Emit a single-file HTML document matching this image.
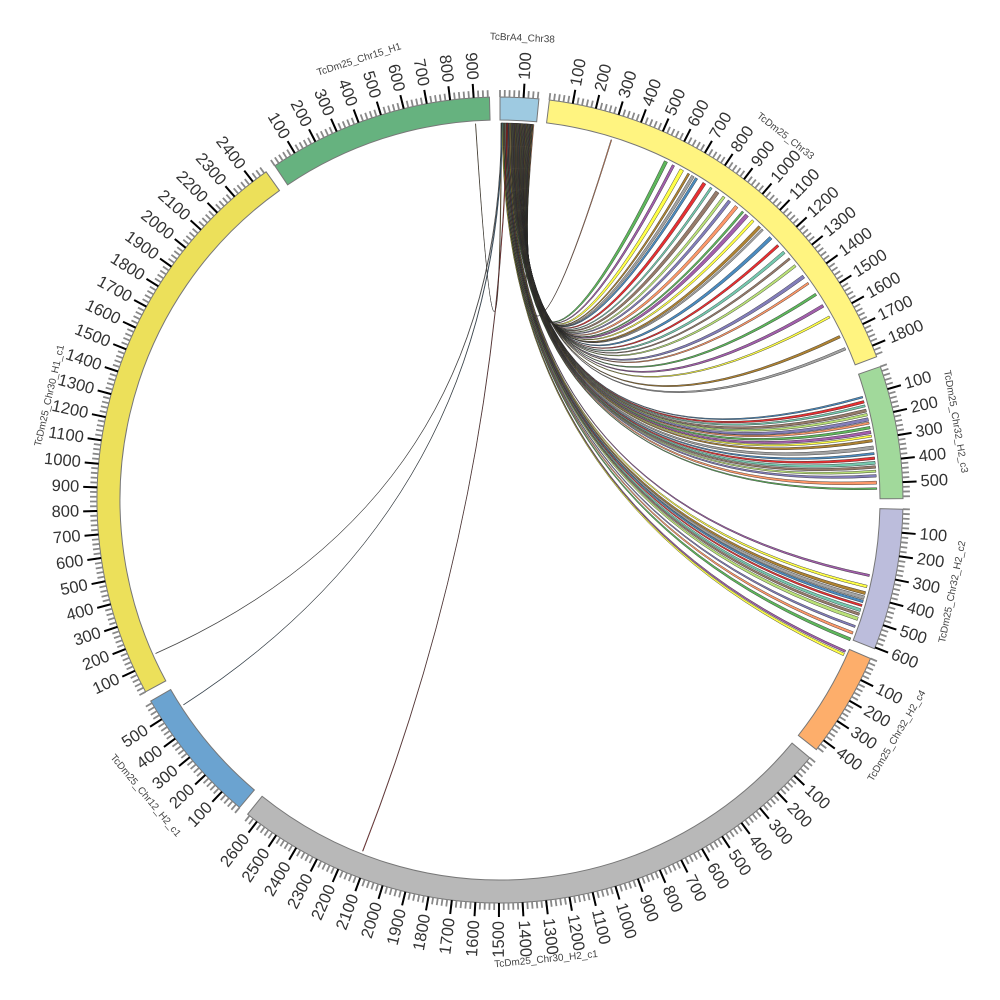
<!DOCTYPE html>
<html><head><meta charset="utf-8"><style>
html,body{margin:0;padding:0;background:#fff}
svg{display:block}
text{font-family:"Liberation Sans","DejaVu Sans",sans-serif}
</style></head><body>
<svg id="chart" width="1000" height="1000" viewBox="0 0 1000 1000" xmlns="http://www.w3.org/2000/svg">
<g id="links"></g>
<g id="segs"></g>
<g id="ticks"></g>
<g id="names"></g>
</svg>
<script>
const chrNames=["TcBrA4_Chr38","TcDm25_Chr33","TcDm25_Chr32_H2_c3","TcDm25_Chr32_H2_c2","TcDm25_Chr32_H2_c4","TcDm25_Chr30_H2_c1","TcDm25_Chr12_H2_c1","TcDm25_Chr30_H1_c1","TcDm25_Chr15_H1"];
const chrLengths=[165,1850,570,606,450,2650,590,2470,967];
const chrColors=["#9ecae1","#fff480","#a1d99b","#bcbddc","#fdae6b","#b8b8b8","#6ba3d0","#ece05a","#66b27f"];
const linkTgtChr=[1,1,1,1,1,1,1,1,1,1,1,1,1,1,1,1,1,1,1,1,1,1,1,1,1,1,1,1,1,1,
2,2,2,2,2,2,2,2,2,2,2,2,2,2,2,2,2,2,2,2,
3,3,3,3,3,3,3,3,3,3,3,3,4,4,8,7,6,5];
const linkTgtPos=[300,560,600,640,680,700,720,760,800,830,870,900,940,980,1000,1040,1080,1100,1150,1200,1240,1280,1320,1380,1420,1480,1540,1600,1700,1760,
100,120,140,160,180,200,220,240,260,280,300,330,360,380,400,420,440,460,490,520,
300,350,380,400,420,440,460,480,500,540,570,600,10,25,900,130,500,2130];
const linkSrcPos=[150,146,144,142,140,138,136,134,132,130,128,126,124,122,120,118,116,114,112,110,108,106,104,102,100,98,96,94,92,90,
88,86,84,82,80,78,76,74,72,70,68,66,64,62,60,58,56,54,52,50,
48,45,42,39,36,33,30,27,24,21,18,15,12,10,4,6,8,30];
const linkTgtWidth=[4,16,12,18,10,14,12,16,10,18,12,14,16,10,18,12,14,10,16,12,14,10,12,16,10,12,14,10,12,12,
8,12,10,14,12,16,10,12,14,10,12,16,10,12,14,12,10,12,14,8,
10,12,14,16,12,10,14,12,16,10,12,14,10,12,2,2,2,3];
const palette=["#fc8d59","#4daf4a","#984ea3","#ffff33","#a6761d","#999999","#377eb8","#e41a1c","#66c2a5","#8c6d5a","#b3de69","#7570b3"];

const cx=500,cy=500,gap=1.5;
const scale=(360-gap*chrNames.length)/chrLengths.reduce((a,b)=>a+b,0);
const starts=[];let acc=0;
chrLengths.forEach((l,i)=>{starts.push(acc);acc+=l*scale+gap;});
function ang(c,p){return starts[c]+p*scale;}
function pt(a,r){const t=a*Math.PI/180;return [cx+r*Math.sin(t),cy-r*Math.cos(t)];}
const NS="http://www.w3.org/2000/svg";
function mk(tag,attrs,parent){const e=document.createElementNS(NS,tag);for(const k in attrs)e.setAttribute(k,attrs[k]);parent.appendChild(e);return e;}
const gSeg=document.getElementById('segs'),gT=document.getElementById('ticks'),gN=document.getElementById('names'),gL=document.getElementById('links');
const R1=380,R2=403;
chrNames.forEach((n,i)=>{
  const a0=ang(i,0),a1=ang(i,chrLengths[i]);
  const p1=pt(a0,R2),p2=pt(a1,R2),p3=pt(a1,R1),p4=pt(a0,R1);
  const lg=(a1-a0)>180?1:0;
  const s=mk('path',{d:`M${p1}A${R2},${R2} 0 ${lg} 1 ${p2}L${p3}A${R1},${R1} 0 ${lg} 0 ${p4}Z`,fill:chrColors[i],stroke:'#777','stroke-width':1},gSeg);
  
  
  for(let p=0;p<=chrLengths[i];p+=20){const a=ang(i,p);const q1=pt(a,R2),q2=pt(a,410);
    const t=mk('line',{x1:q1[0],y1:q1[1],x2:q2[0],y2:q2[1],stroke:'#888','stroke-width':1.8},gT);
    
    }
  for(let p=100;p<=chrLengths[i];p+=100){const a=ang(i,p);const q1=pt(a,R2),q2=pt(a,417);
    const t=mk('line',{x1:q1[0],y1:q1[1],x2:q2[0],y2:q2[1],stroke:'#000','stroke-width':2},gT);
    
    
    const lp=pt(a,421);const right=a<180;
    const tx=mk('text',{x:lp[0],y:lp[1],'font-size':16.5,fill:'#333','text-anchor':right?'start':'end','dominant-baseline':'central',transform:`rotate(${right?a-90:a+90} ${lp[0]} ${lp[1]})`},gT);
    tx.textContent=p;
    
    }
  const am=(a0+a1)/2;const np=pt(am,462);
  const rot=(am>90&&am<270)?am-180:am;
  const nt=mk('text',{x:np[0],y:np[1],'font-size':10,fill:'#444','text-anchor':'middle','dominant-baseline':'central',transform:`rotate(${rot} ${np[0]} ${np[1]})`},gN);
  nt.textContent=n;
  
  
});
const RL=377;
linkTgtChr.forEach((c,i)=>{
  const s1=pt(ang(0,linkSrcPos[i]),RL),s2=pt(ang(0,linkSrcPos[i]+4),RL);
  const t1=pt(ang(c,linkTgtPos[i]),RL),t2=pt(ang(c,linkTgtPos[i]+linkTgtWidth[i]),RL);
  const p=mk('path',{d:`M${s1}L${s2}Q${cx},${cy} ${t1}L${t2}Q${cx},${cy} ${s1}Z`,fill:palette[i%palette.length],stroke:'#222','stroke-width':0.4,'fill-opacity':0.9},gL);
  
  
});
</script>
</body></html>
